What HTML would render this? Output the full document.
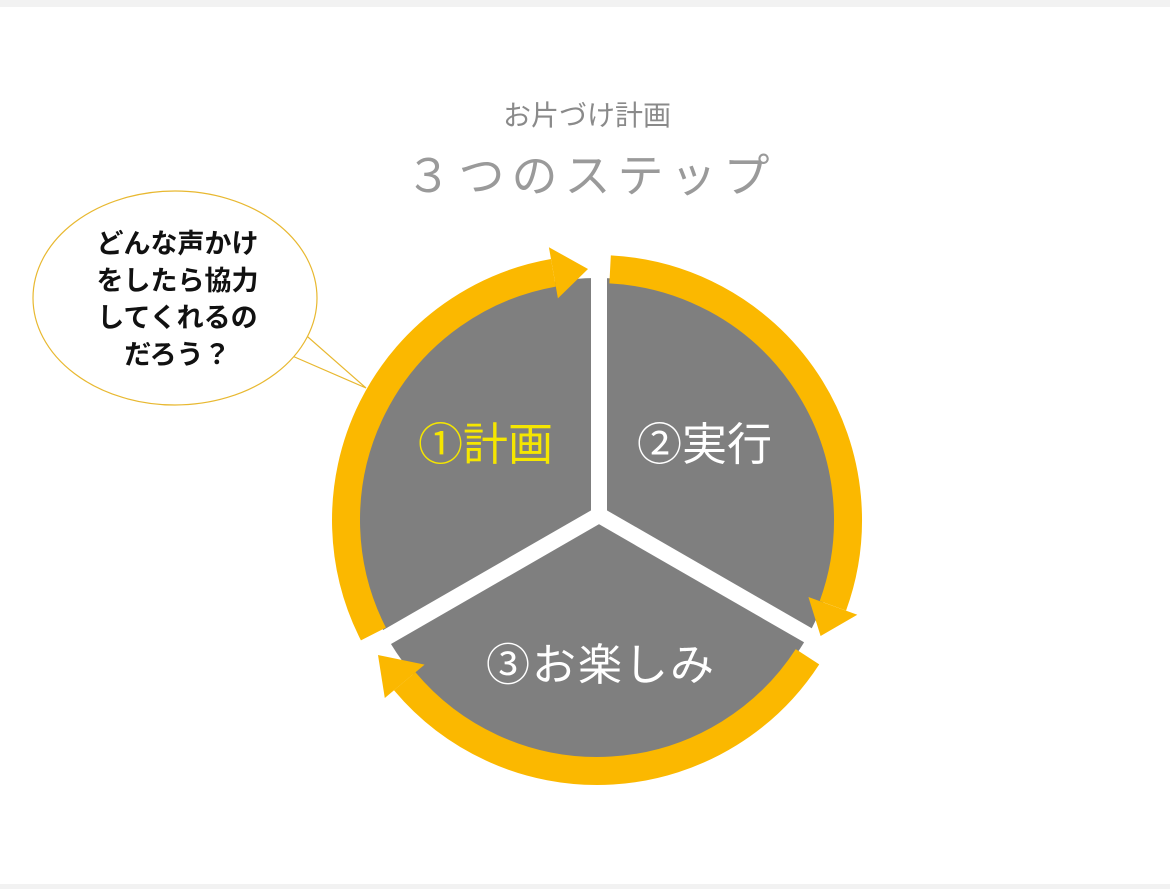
<!DOCTYPE html>
<html><head><meta charset="utf-8"><style>
html,body{margin:0;padding:0;background:#fff;}
body{width:1170px;height:889px;position:relative;overflow:hidden;font-family:"Liberation Sans","Noto Sans CJK JP",sans-serif;}
.t{position:absolute;white-space:nowrap;}
</style></head><body>
<div style="position:absolute;left:0;top:0;width:1170px;height:7px;background:#f2f2f2"></div>
<div style="position:absolute;left:0;top:884px;width:1170px;height:5px;background:#f2f2f2"></div>
<svg width="1170" height="889" style="position:absolute;left:0;top:0">
  <circle cx="597" cy="519" r="241" fill="#7f7f7f"/>
  <g stroke="#fff" stroke-width="16" stroke-linecap="butt">
    <line x1="599" y1="522" x2="599" y2="262"/>
    <line x1="599" y1="515" x2="830" y2="648"/>
    <line x1="599" y1="515" x2="368" y2="648"/>
  </g>
  <g fill="none" stroke="#fbb800" stroke-width="28">
    <path d="M373.4 634 A251 251 0 0 1 553.4 272.8"/>
    <path d="M610.1 269.4 A251 251 0 0 1 832.9 605.8"/>
    <path d="M807.5 656.7 A251 251 0 0 1 404.7 681.3"/>
  </g>
  <g fill="#fbb800">
    <polygon points="548.9,247.2 557.9,298.4 588,269"/>
    <polygon points="857.3,614.7 808.4,597 820.6,636"/>
    <polygon points="384.8,698 424.6,664.6 378,655"/>
  </g>
  <path d="M290 355 L366 388 L300 330 Z" fill="#fff" stroke="#e8b830" stroke-width="1.2"/>
  <ellipse cx="175" cy="298" rx="142" ry="107" fill="#fff" stroke="#e8b830" stroke-width="1.2"/>
  <path d="M288 352 L300 332" stroke="#fff" stroke-width="3"/>
</svg>
<div class="t" style="left:0;width:1170px;text-align:center;top:94px;font-size:28px;color:#8a8a8a;margin-left:2px">お片づけ計画</div>
<div class="t" style="left:0;width:1170px;text-align:center;top:140px;font-size:46px;color:#9a9a9a;letter-spacing:7px;margin-left:6px">３つのステップ</div>
<div class="t" style="left:35px;width:285px;text-align:center;top:226px;font-size:27px;font-weight:bold;color:#111;line-height:37px">どんな声かけ<br>をしたら協力<br>してくれるの<br>だろう？</div>
<div class="t" style="left:418px;top:408px;font-size:45px;color:#f5e600">①計画</div>
<div class="t" style="left:637px;top:408px;font-size:45px;color:#fff">②実行</div>
<div class="t" style="left:486px;top:629px;font-size:44px;color:#fff;letter-spacing:2px">③お楽しみ</div>
</body></html>
